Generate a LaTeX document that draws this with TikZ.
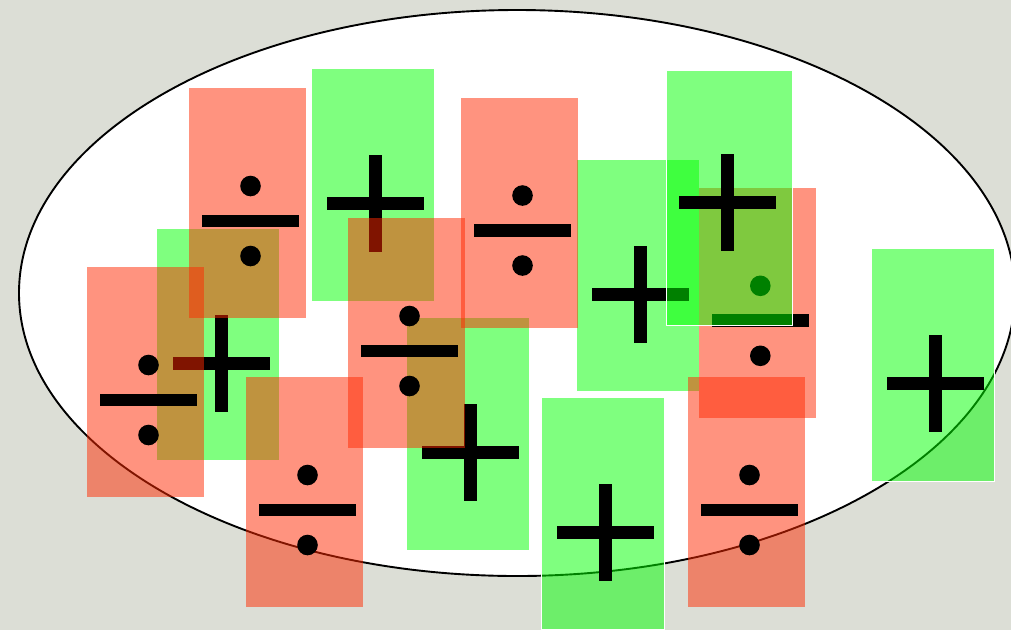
\documentclass[tikz,border=0pt]{standalone}
\usetikzlibrary{shapes.geometric}
\definecolor{bgc}{RGB}{220,222,214}
\definecolor{redc}{RGB}{255,41,0}
\definecolor{greenc}{RGB}{0,255,0}
\begin{document}
\begin{tikzpicture}[x=1pt,y=-1pt,
  card/.style={rectangle, inner sep=0pt, outer sep=0pt, fill opacity=0.5},
  redcard/.style={card, fill=redc, minimum width=117pt, minimum height=230pt},
  greencard/.style={card, fill=greenc, draw=white, line width=0.8pt, minimum width=123pt, minimum height=232.5pt},
  divsym/.pic={
    \fill[black] (-48.5,-6.35) rectangle (48.5,6.35);
    \fill[black] (0,-35) circle[radius=10.3];
    \fill[black] (0,35) circle[radius=10.3];},
  plussym/.pic={
    \fill[black] (-48.5,-6.5) rectangle (48.5,6.5);
    \fill[black] (-6.5,-48.5) rectangle (6.5,48.5);},
  redsym/.style={shift={(3,18)}},
  greensym/.style={shift={(3,18.5)}}
]
\useasboundingbox (0,0) rectangle (1011,630);
\fill[bgc] (0,0) rectangle (1011,630);
\node[ellipse, draw=black, fill=white, line width=1.9pt, inner sep=0pt,
      minimum width=996pt, minimum height=566pt] (ell) at (517,293) {};

% cards, in stacking order
\node[greencard] (g2) at (218,344.5) {};
\pic at ([greensym]g2.center) {plussym};
\node[greencard] (g1) at (372.5,185) {};
\pic at ([greensym]g1.center) {plussym};
\node[greencard] (g3) at (467.5,434) {};
\pic at ([greensym]g3.center) {plussym};
\node[greencard] (g4) at (637.5,275.5) {};
\pic at ([greensym]g4.center) {plussym};
\node[redcard] (r6) at (757.3,302.8) {};
\pic at ([redsym]r6.center) {divsym};
\node[greencard, minimum width=126pt, minimum height=255pt] (g6) at (729,198.2) {};
\pic at ([shift={(-1.3,4.1)}]g6.center) {plussym};
\node[redcard] (r1) at (247.5,203) {};
\pic at ([redsym]r1.center) {divsym};
\node[redcard] (r2) at (145.5,382) {};
\pic at ([redsym]r2.center) {divsym};
\node[redcard] (r5) at (304.5,492) {};
\pic at ([redsym]r5.center) {divsym};
\node[redcard] (r3) at (406.5,333) {};
\pic at ([redsym]r3.center) {divsym};
\node[redcard] (r4) at (519.5,212.5) {};
\pic at ([redsym]r4.center) {divsym};
\node[redcard] (r7) at (746.5,492) {};
\pic at ([redsym]r7.center) {divsym};
\node[greencard] (g5) at (602.5,513.5) {};
\pic at ([greensym]g5.center) {plussym};
\node[greencard] (g7) at (932.5,365) {};
\pic at ([greensym]g7.center) {plussym};
\end{tikzpicture}
\end{document}
